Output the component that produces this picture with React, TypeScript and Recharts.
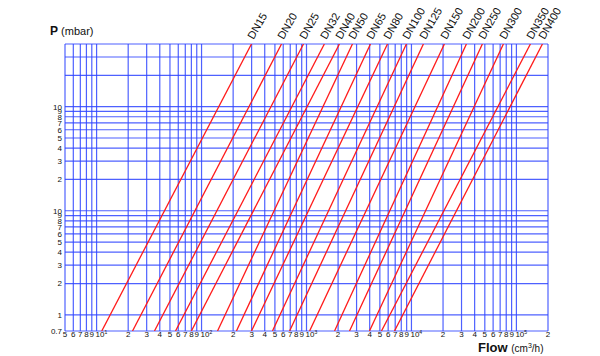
import React from 'react';
import { CartesianGrid, Line, LineChart, XAxis, YAxis } from 'recharts';

// nominal diameters, one red line each
const dnNames = ['DN15', 'DN20', 'DN25', 'DN32', 'DN40', 'DN50', 'DN65', 'DN80', 'DN100', 'DN125', 'DN150', 'DN200', 'DN250', 'DN300', 'DN350', 'DN400'];
// flow (cm3/h) where each line meets the bottom edge (P = 0.7 mbar)
const flowAtBottom = [11.2, 22, 35.6, 56.5, 80, 142, 215, 299, 474, 690, 1070, 1850, 2570, 3980, 5180, 6890];
// flow (cm3/h) where each line meets the top edge (P = 400 mbar)
const flowAtTop = [299, 578, 936, 1480, 2060, 2740, 4070, 5910, 8950, 13000, 20600, 33400, 47400, 75200, 136000, 177000];
const pBottom = 0.7;
const pTop = 400;

const xTicks = [5, 6, 7, 8, 9, 10, 20, 30, 40, 50, 60, 70, 80, 90, 100, 200, 300, 400, 500, 600, 700, 800, 900, 1000, 2000, 3000, 4000, 5000, 6000, 7000, 8000, 9000, 10000, 20000, 30000, 40000, 50000, 60000, 70000, 80000, 90000, 100000, 200000];
const yTicks = [0.7, 1, 2, 3, 4, 5, 6, 7, 8, 9, 10, 20, 30, 40, 50, 60, 70, 80, 90, 100, 200, 300, 400];

const isPow10 = (v: number) => Math.abs(Math.pow(10, Math.round(Math.log10(v))) - v) < 1e-6;

const fmtY = (v: number) => {
    if (v === 0.7) return '0.7';
    if (v > 100) return '';
    if (v === 10 || v === 100) return '10';
    return v >= 10 ? String(v / 10) : String(v);
};

const font = '"Liberation Sans", Arial, sans-serif';

const XTick = ({ x, y, payload }: any) => {
    const v = payload.value;
    if (isPow10(v)) {
        const e = Math.round(Math.log10(v));
        return (
            <text x={x - 1} y={y + 6} fontSize={8} fontFamily={font} fill="#111" textAnchor="start">
                10<tspan fontSize={5} dy={-3}>{e}</tspan>
            </text>
        );
    }
    const lead = Math.round(v / Math.pow(10, Math.floor(Math.log10(v) + 1e-9)));
    return (
        <text x={x} y={y + 6} fontSize={8} fontFamily={font} fill="#111" textAnchor="middle">
            {lead}
        </text>
    );
};

const App = () => {
    const series = dnNames.map((name, i) => ({
        name,
        data: [
            { q: flowAtBottom[i], p: pBottom },
            { q: flowAtTop[i], p: pTop },
        ],
    }));

    return (
        <div style={{ position: 'absolute', left: 0, top: 0, width: 600, height: 356, fontFamily: font }}>
            <LineChart width={600} height={356} margin={{ top: 44, right: 52, bottom: 0, left: 0 }}>
                <CartesianGrid stroke="#2f45ff" strokeOpacity={0.85} strokeWidth={1.2} horizontal vertical />
                <XAxis
                    dataKey="q"
                    type="number"
                    scale="log"
                    domain={[5, 200000]}
                    allowDataOverflow
                    ticks={xTicks}
                    interval={0}
                    axisLine={false}
                    tickLine={false}
                    tickSize={0}
                    height={25}
                    tickMargin={0}
                    tick={<XTick />}
                />
                <YAxis
                    dataKey="p"
                    type="number"
                    scale="log"
                    domain={[0.7, 400]}
                    allowDataOverflow
                    ticks={yTicks}
                    interval={0}
                    tickFormatter={fmtY}
                    axisLine={false}
                    tickLine={false}
                    tickSize={0}
                    width={65}
                    tickMargin={3}
                    tick={{ fontSize: 8, fill: '#111', fontFamily: font }}
                />
                {series.map((s) => (
                    <Line
                        key={s.name}
                        data={s.data}
                        dataKey="p"
                        type="linear"
                        stroke="#ff1a1a"
                        strokeWidth={1.3}
                        dot={false}
                        isAnimationActive={false}
                        label={(props: any) =>
                            props.index === 1 ? (
                                <text
                                    key={s.name}
                                    x={props.x + 2}
                                    y={props.y - 4}
                                    transform={`rotate(-60, ${props.x + 2}, ${props.y - 4})`}
                                    fontSize={11}
                                    fontFamily={font}
                                    fill="#111"
                                >
                                    {s.name}
                                </text>
                            ) : (
                                <g key={s.name + '0'} />
                            )
                        }
                    />
                ))}
            </LineChart>
            <div style={{ position: 'absolute', left: 50, top: 25, fontSize: 11, lineHeight: 1, color: '#111', whiteSpace: 'nowrap' }}>
                <b style={{ fontSize: 12 }}>P</b> (mbar)
            </div>
            <div style={{ position: 'absolute', left: 478, top: 341, fontSize: 13, lineHeight: 1, color: '#111', whiteSpace: 'nowrap' }}>
                <b>Flow</b> <span style={{ fontSize: 10 }}>(cm<sup style={{ fontSize: 7, lineHeight: 0 }}>3</sup>/h)</span>
            </div>
        </div>
    );
};

export default App;
